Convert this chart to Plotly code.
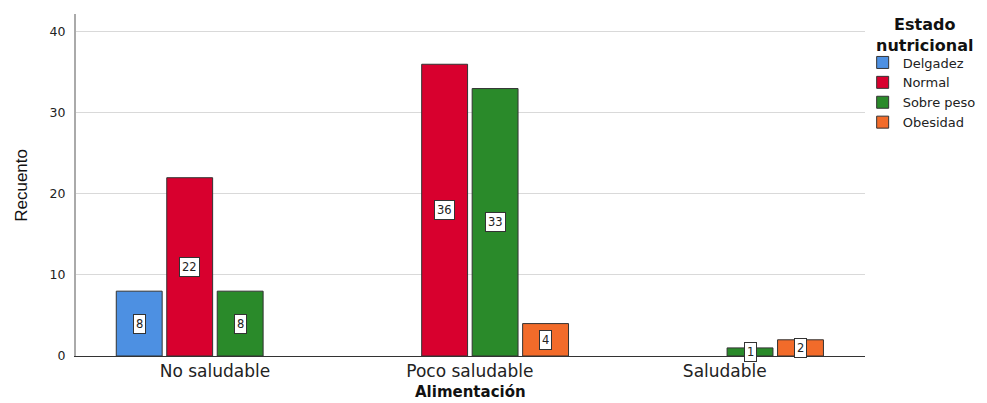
import plotly.graph_objects as go

categories = ["No saludable", "Poco saludable", "Saludable"]
series_names = ["Delgadez", "Normal", "Sobre peso", "Obesidad"]
delgadez = [8, 0, 0]
normal = [22, 36, 0]
sobre_peso = [8, 33, 1]
obesidad = [0, 4, 2]
y_ticks = [0, 10, 20, 30, 40]
legend_title = "Estado<br>nutricional"

series_values = [delgadez, normal, sobre_peso, obesidad]
colors = ["#4d90e2", "#d8002e", "#2a8a2a", "#f26b2a"]

slot = 0.198
bar_w = 0.18
FONT = "DejaVu Sans, Verdana, sans-serif"

fig = go.Figure()
annotations = []
for i, (name, vals, col) in enumerate(zip(series_names, series_values, colors)):
    off = (i - (len(series_names) - 1) / 2) * slot
    xs, ys = [], []
    for ci, v in enumerate(vals):
        if v > 0:
            xs.append(ci + off)
            ys.append(v)
            annotations.append(dict(
                x=ci + off, y=v / 2, xref="x", yref="y", text=str(v),
                showarrow=False, font=dict(family=FONT, size=11.5, color="#222"),
                bgcolor="white", bordercolor="#333", borderwidth=1, borderpad=2,
            ))
    fig.add_trace(go.Bar(
        x=xs, y=ys, name=name, width=bar_w,
        marker=dict(color=col, line=dict(color="#333333", width=1)),
    ))

annotations.append(dict(
    text="Recuento", xref="paper", yref="paper", x=-0.07, y=0.5,
    xanchor="center", yanchor="middle", textangle=-90, showarrow=False,
    font=dict(family="Liberation Sans Narrow, Arial Narrow, Liberation Sans, sans-serif",
              size=17, color="#111"),
))
annotations.append(dict(
    text="<b>Alimentación</b>", xref="paper", yref="paper", x=0.5, y=-0.104,
    xanchor="center", yanchor="middle", showarrow=False,
    font=dict(family=FONT, size=15, color="#111"),
))
annotations.append(dict(
    text="<b>" + legend_title + "</b>", xref="paper", yref="paper", x=1.076, y=0.94,
    xanchor="center", yanchor="middle", align="center", showarrow=False,
    font=dict(family=FONT, size=16, color="#111"),
))

fig.update_layout(
    width=979, height=395,
    margin=dict(l=68, r=122, t=6, b=47, autoexpand=False),
    paper_bgcolor="white", plot_bgcolor="white",
    showlegend=True,
    annotations=annotations,
    legend=dict(
        xref="container", yref="container",
        x=0.873, xanchor="left", y=0.9, yanchor="top",
        font=dict(family=FONT, size=13, color="#222"),
        bgcolor="rgba(0,0,0,0)", itemwidth=30, tracegroupgap=0,
    ),
    xaxis=dict(
        range=[-0.545, 2.55], automargin=False,
        tickmode="array", tickvals=list(range(len(categories))), ticktext=categories,
        tickfont=dict(family=FONT, size=17, color="#222"),
        showgrid=False, zeroline=False,
        showline=True, linecolor="#333", linewidth=1,
        ticks="", ticklabelstandoff=0,
    ),
    yaxis=dict(
        range=[0, 42.2], automargin=False,
        tickmode="array", tickvals=y_ticks,
        tickfont=dict(family=FONT, size=12.5, color="#222"),
        showgrid=True, gridcolor="#d9d9d9", gridwidth=1,
        zeroline=False, showline=True, linecolor="#aaaaaa", linewidth=2,
        ticks="", ticklabelstandoff=6,
    ),
)

fig.write_html("out.html")
